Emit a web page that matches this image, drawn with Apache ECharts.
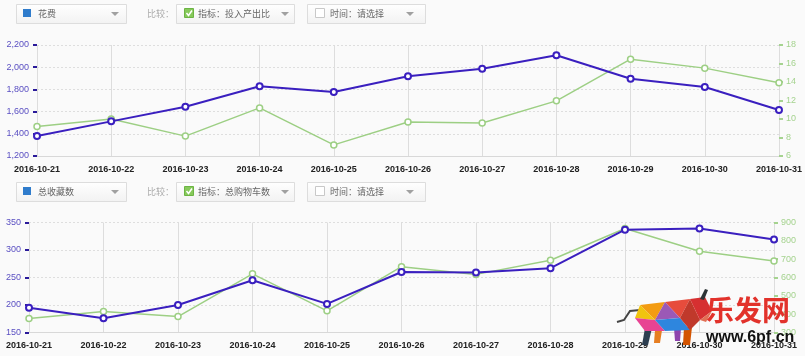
<!DOCTYPE html>
<html><head><meta charset="utf-8">
<script src="https://cdn.jsdelivr.net/npm/echarts@6/dist/echarts.min.js"></script>
<style>html,body{margin:0;padding:0;background:#fafafa}#c{width:805px;height:356px}</style>
</head><body><div id="c"></div>
<script>
const dates = ['2016-10-21','2016-10-22','2016-10-23','2016-10-24','2016-10-25','2016-10-26','2016-10-27','2016-10-28','2016-10-29','2016-10-30','2016-10-31'];
const costValues = [1380,1512,1644,1828,1776,1918,1987,2107,1896,1822,1614];
const roiValues = [9.2,10.0,8.15,11.2,7.2,9.67,9.57,11.96,16.47,15.5,13.93];
const favValues = [195,176,200,245,202,260,259,267,337,339,319];
const cartValues = [376,415,387,620,418,659,617,694,867,743,690];
const topLeftRange = [1200,2200,200];
const topRightRange = [6,18,2];
const botLeftRange = [150,350,50];
const botRightRange = [300,900,100];
const topHeader = ['花费','比较：','指标：投入产出比','时间：请选择'];
const botHeader = ['总收藏数','比较：','指标：总购物车数','时间：请选择'];

const BLUE = '#3a1fbf', GREEN = '#9dcf84';
const FONT = '"Liberation Sans", Arial, sans-serif';
const CJK = '"Noto Sans CJK SC", sans-serif';

function box(x, y, w, h) {
  return {type:'rect', shape:{x:x+0.5,y:y+0.5,width:w,height:h},
    style:{fill:new echarts.graphic.LinearGradient(0,0,0,1,[{offset:0,color:'#ffffff'},{offset:1,color:'#f2f2f2'}]), stroke:'#dddddd', lineWidth:1}};
}
function arrow(x, y) {
  return {type:'polygon', shape:{points:[[x,y],[x+8,y],[x+4,y+4]]}, style:{fill:'#a0a0a0'}};
}
function header(y, t) {
  const els = [];
  els.push(box(16, y, 110, 19));
  els.push({type:'rect', shape:{x:23,y:y+5,width:8,height:8}, style:{fill:'#2f7ccc'}});
  els.push({type:'text', x:38, y:y+10, style:{text:t[0], fill:'#666', font:'9px '+CJK, verticalAlign:'middle'}});
  els.push(arrow(111, y+8));
  els.push({type:'text', x:147, y:y+10, style:{text:t[1], fill:'#aaa', font:'9px '+CJK, verticalAlign:'middle'}});
  els.push(box(176, y, 118, 19));
  els.push({type:'rect', shape:{x:184.5,y:y+4.5,width:9,height:9}, style:{fill:'#86c95a', stroke:'#6cb444'}});
  els.push({type:'polyline', shape:{points:[[186.5,y+9],[188.5,y+11.5],[192,y+6.5]]}, style:{stroke:'#fff', lineWidth:1.5, fill:null}});
  els.push({type:'text', x:198, y:y+10, style:{text:t[2], fill:'#666', font:'9px '+CJK, verticalAlign:'middle'}});
  els.push(arrow(281, y+8));
  els.push(box(307, y, 118, 19));
  els.push({type:'rect', shape:{x:315.5,y:y+4.5,width:9,height:9}, style:{fill:'#fff', stroke:'#c8c8c8'}});
  els.push({type:'text', x:330, y:y+10, style:{text:t[3], fill:'#666', font:'9px '+CJK, verticalAlign:'middle'}});
  els.push(arrow(406, y+8));
  return els;
}
function bull() {
  const P = (pts, c) => ({type:'polygon', z:100, shape:{points:pts}, style:{fill:c}});
  return [
    {type:'polyline', z:100, shape:{points:[[640,310],[630,311],[624,320],[617,322]]}, style:{stroke:'#444', lineWidth:2, fill:null}},
    P([[645,328],[652,328],[648,345],[642,345]], '#2c3e50'),
    P([[655,330],[662,330],[660,343],[654,343]], '#e67e22'),
    P([[684,327],[692,327],[690,345],[683,345]], '#d35400'),
    P([[674,328],[681,328],[680,341],[675,341]], '#8e44ad'),
    P([[640,305],[665,302],[655,320]], '#f39c12'),
    P([[665,302],[690,299],[680,318]], '#e74c3c'),
    P([[655,320],[665,302],[680,318]], '#9b59b6'),
    P([[635,318],[640,305],[655,320]], '#f1c40f'),
    P([[645,331],[635,318],[655,320],[665,331]], '#e84393'),
    P([[655,320],[680,318],[690,330],[665,331]], '#2e86de'),
    P([[680,318],[690,299],[700,320],[690,330]], '#c0392b'),
    P([[690,299],[705,297],[712,311],[700,320]], '#d63031'),
    P([[700,320],[712,311],[706,322]], '#e17055'),
    P([[700,299],[705,289],[708,290],[704,300]], '#2d3436')
  ];
}

const graphics = [].concat(header(4, topHeader), header(182, botHeader), bull(), [
  {type:'text', z:100, x:706, y:310, style:{text:'乐发网', fill:'#e2322b', font:'bold 28px '+CJK, verticalAlign:'middle'}},
  {type:'text', z:100, x:706, y:338, style:{text:'www.6pf.cn', fill:'#111', font:'bold 16px '+FONT, verticalAlign:'middle'}}
]);

function xAxis(gi) {
  return {type:'category', gridIndex:gi, data:dates, boundaryGap:false,
    axisLine:{lineStyle:{color:'#d8d8d8'}}, axisTick:{show:false},
    axisLabel:{color:'#222', fontSize:9, fontWeight:'bold', fontFamily:FONT, margin:9, showMinLabel:true, showMaxLabel:true, interval:0},
    splitLine:{show:true, lineStyle:{color:'#dddddd', type:'solid'}}};
}
function yAxis(gi, r, pos, color, tickColor, fmt) {
  return {type:'value', gridIndex:gi, position:pos, min:r[0], max:r[1], interval:r[2],
    axisLine:{show:false},
    axisTick:{show:true, length:4, lineStyle:{color:tickColor, width:2}},
    axisLabel:{color:color, fontSize:9, fontFamily:FONT, margin:pos==='left'?8:7, formatter:fmt},
    splitLine:{show:pos==='left', lineStyle:{color:'#dedede', type:[2,2]}}};
}
function line(name, data, xi, yi, color, w) {
  return {name, type:'line', data, xAxisIndex:xi, yAxisIndex:yi, symbol:'circle', symbolSize:6,
    lineStyle:{color, width:w}, itemStyle:{color:'#fff', borderColor:color, borderWidth:w}, emphasis:{disabled:true}, animation:false};
}
const fmtComma = v => v.toLocaleString('en-US');

const chart = echarts.init(document.getElementById('c'));
chart.setOption({
  backgroundColor:'#fafafa',
  animation:false,
  grid:[{left:37, right:24, top:45, height:111}, {left:29, right:31, top:222.5, height:110}],
  xAxis:[xAxis(0), xAxis(1)],
  yAxis:[
    yAxis(0, topLeftRange, 'left', '#5a4fc2', '#2a1a9a', fmtComma),
    yAxis(0, topRightRange, 'right', '#a5d38f', '#a5d38f'),
    yAxis(1, botLeftRange, 'left', '#5a4fc2', '#2a1a9a'),
    yAxis(1, botRightRange, 'right', '#a5d38f', '#a5d38f')
  ],
  series:[
    line('投入产出比', roiValues, 0, 1, GREEN, 1.5),
    line('花费', costValues, 0, 0, BLUE, 2),
    line('总购物车数', cartValues, 1, 3, GREEN, 1.5),
    line('总收藏数', favValues, 1, 2, BLUE, 2)
  ],
  graphic:graphics
});
</script></body></html>
